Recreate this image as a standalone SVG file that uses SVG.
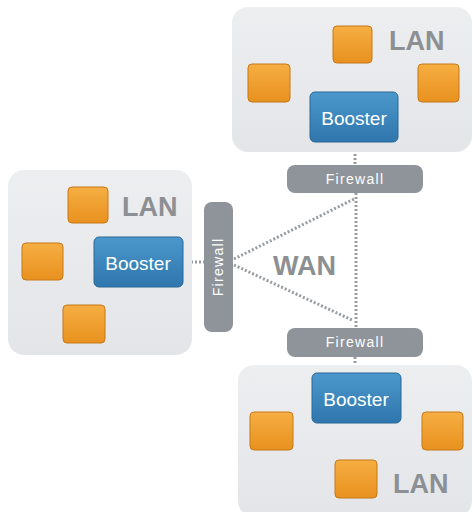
<svg xmlns="http://www.w3.org/2000/svg" width="473" height="512" viewBox="0 0 473 512">
<defs>
<linearGradient id="gLan" x1="0" y1="0" x2="0" y2="1"><stop offset="0" stop-color="#eceef0"/><stop offset="1" stop-color="#e3e5e8"/></linearGradient>
<linearGradient id="gBoost" x1="0" y1="0" x2="0" y2="1"><stop offset="0" stop-color="#4b98cc"/><stop offset="1" stop-color="#2f76ad"/></linearGradient>
<linearGradient id="gOr" x1="0" y1="0" x2="0" y2="1"><stop offset="0" stop-color="#f6ae42"/><stop offset="1" stop-color="#e8911f"/></linearGradient>
<style>
.lan{fill:url(#gLan);}
.lanT{font-family:"Liberation Sans",Arial,sans-serif;font-weight:bold;font-size:27px;fill:#8c8f93;}
.wan{font-family:"Liberation Sans",Arial,sans-serif;font-weight:bold;font-size:27px;fill:#8c8f93;}
.boost{fill:url(#gBoost);stroke:#2b6896;stroke-width:1;}
.boostT{font-family:"Liberation Sans",Arial,sans-serif;font-size:19px;fill:#ffffff;text-anchor:middle;}
.sq{fill:url(#gOr);stroke:#c77818;stroke-width:1;}
.fw{fill:#8e949a;}
.fwT{font-family:"Liberation Sans",Arial,sans-serif;font-size:14px;fill:#ffffff;text-anchor:middle;letter-spacing:1.3px;}
.con{stroke:#979ca1;stroke-width:3;stroke-dasharray:2 2;fill:none;}
</style>
</defs>
<rect width="473" height="512" fill="#ffffff"/>
<g id="connectors">
<line class="con" x1="355" y1="142" x2="355" y2="165"/>
<line class="con" x1="183" y1="262" x2="204" y2="262"/>
<line class="con" x1="234" y1="259" x2="354" y2="199"/>
<line class="con" x1="234" y1="265" x2="352" y2="320"/>
<line class="con" x1="356" y1="193" x2="356" y2="328"/>
<line class="con" x1="355" y1="357" x2="355" y2="373"/>
</g>
<g id="lan-top">
<rect class="lan" x="232" y="7" width="240" height="145" rx="16"/>
<rect class="sq" x="333" y="26" width="39" height="37" rx="4"/>
<rect class="sq" x="248" y="64" width="42" height="38" rx="4"/>
<rect class="sq" x="418" y="64" width="41" height="38" rx="4"/>
<text class="lanT" x="389" y="50">LAN</text>
</g>
<g id="booster-top">
<rect class="boost" x="310" y="92" width="88" height="50" rx="5"/>
<text class="boostT" x="354" y="125">Booster</text>
</g>
<g id="lan-left">
<rect class="lan" x="8" y="170" width="184" height="185" rx="16"/>
<rect class="sq" x="68" y="187" width="40" height="36" rx="4"/>
<rect class="sq" x="22" y="243" width="41" height="37" rx="4"/>
<rect class="sq" x="63" y="305" width="42" height="38" rx="4"/>
<text class="lanT" x="122" y="216">LAN</text>
</g>
<g id="booster-left">
<rect class="boost" x="94" y="237" width="89" height="50" rx="5"/>
<text class="boostT" x="138" y="270">Booster</text>
</g>
<g id="lan-bottom">
<rect class="lan" x="238" y="365" width="234" height="152" rx="16"/>
<rect class="sq" x="250" y="412" width="43" height="38" rx="4"/>
<rect class="sq" x="422" y="412" width="41" height="38" rx="4"/>
<rect class="sq" x="335" y="460" width="42" height="38" rx="4"/>
<text class="lanT" x="393" y="493">LAN</text>
</g>
<g id="booster-bottom">
<rect class="boost" x="312" y="373" width="89" height="50" rx="5"/>
<text class="boostT" x="356" y="406">Booster</text>
</g>
<g id="firewall-top">
<rect class="fw" x="287" y="165" width="136" height="28" rx="8"/>
<text class="fwT" x="355" y="184">Firewall</text>
</g>
<g id="firewall-left">
<rect class="fw" x="204" y="202" width="29" height="130" rx="8"/>
<text class="fwT" transform="translate(223,267) rotate(-90)">Firewall</text>
</g>
<g id="firewall-bottom">
<rect class="fw" x="287" y="328" width="136" height="29" rx="8"/>
<text class="fwT" x="355" y="347">Firewall</text>
</g>
<text class="wan" x="273" y="275">WAN</text>
</svg>
